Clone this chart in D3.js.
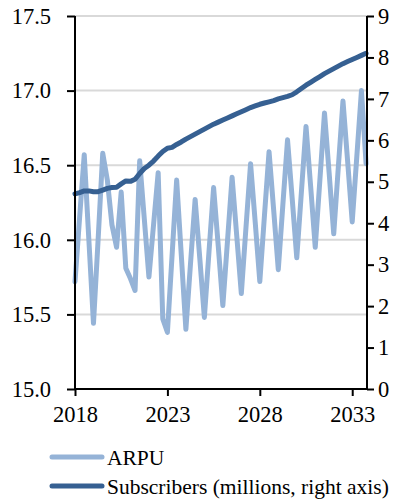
<!DOCTYPE html>
<html>
<body style="margin:0">
<div class="container"></div>
<script src="https://d3js.org/d3.v7.min.js"></script>
<script>

// quarterly data, first quarter is 2018 Q1
var startYear = 2018;

var arpu = [
  15.72, 16.15, 16.57, 16.00,
  15.44, 16.00, 16.58, 16.40,
  16.10, 15.95, 16.32, 15.81,
  15.74, 15.66, 16.53, 16.14,
  15.75, 16.10, 16.45, 15.47,
  15.38, 15.89, 16.40, 15.90,
  15.40, 15.84, 16.27, 15.88,
  15.48, 15.92, 16.35, 15.96,
  15.56, 15.99, 16.42, 16.03,
  15.64, 16.08, 16.51, 16.12,
  15.72, 16.16, 16.59, 16.20,
  15.80, 16.24, 16.67, 16.28,
  15.88, 16.32, 16.76, 16.36,
  15.95, 16.40, 16.85, 16.45,
  16.04, 16.49, 16.93, 16.53,
  16.12, 16.56, 17.00, 16.51
];

var subscribers = [
  4.71, 4.74, 4.78, 4.78,
  4.76, 4.76, 4.80, 4.84,
  4.86, 4.87, 4.95, 5.02,
  5.01, 5.06, 5.20, 5.32,
  5.40, 5.50, 5.62, 5.73,
  5.81, 5.83, 5.90, 5.96,
  6.03, 6.09, 6.15, 6.21,
  6.27, 6.33, 6.39, 6.44,
  6.49, 6.54, 6.59, 6.64,
  6.69, 6.74, 6.79, 6.83,
  6.87, 6.90, 6.93, 6.96,
  7.00, 7.03, 7.06, 7.10,
  7.17, 7.25, 7.33, 7.40,
  7.47, 7.54, 7.61, 7.67,
  7.73, 7.79, 7.85, 7.90,
  7.95, 8.00, 8.05, 8.10
];

var xTicks = [2018, 2023, 2028, 2033];
var leftTicks = [15.0, 15.5, 16.0, 16.5, 17.0, 17.5];
var rightTicks = [0, 1, 2, 3, 4, 5, 6, 7, 8, 9];
var legendLabels = ["ARPU", "Subscribers (millions, right axis)"];

var width = 401,
    height = 502,
    margin = {top: 16, right: 34, bottom: 113, left: 75},
    w = width - margin.left - margin.right,
    h = height - margin.top - margin.bottom;

var light = "#95b3d7",
    dark = "#366092",
    serif = "'Liberation Serif', 'Times New Roman', serif";

var svg = d3.select(".container")
    .append("svg")
    .attr("width", width)
    .attr("height", height)
    .style("display", "block");

var g = svg.append("g")
    .attr("transform", "translate(" + margin.left + "," + margin.top + ")");

var x = d3.scaleLinear().domain([2018, 2033.8]).range([0, w]);
var yL = d3.scaleLinear().domain([15, 17.5]).range([h, 0]);
var yR = d3.scaleLinear().domain([0, 9]).range([h, 0]);

function t(i) { return startYear + i / 4; }

// gridlines
g.selectAll(".grid")
    .data(leftTicks.slice(1))
  .enter().append("line")
    .attr("class", "grid")
    .attr("x1", 0)
    .attr("x2", w)
    .attr("y1", function(d) { return yL(d); })
    .attr("y2", function(d) { return yL(d); })
    .style("stroke", "#d9d9d9")
    .style("stroke-width", 2);

var arpuLine = d3.line()
    .x(function(d, i) { return x(t(i)); })
    .y(function(d) { return yL(d); });

var subLine = d3.line()
    .x(function(d, i) { return x(t(i)); })
    .y(function(d) { return yR(d); });

g.append("path")
    .datum(arpu)
    .attr("d", arpuLine)
    .style("fill", "none")
    .style("stroke", light)
    .style("stroke-width", 5)
    .style("stroke-linejoin", "round")
    .style("stroke-linecap", "round");

g.append("path")
    .datum(subscribers)
    .attr("d", subLine)
    .style("fill", "none")
    .style("stroke", dark)
    .style("stroke-width", 5)
    .style("stroke-linejoin", "round")
    .style("stroke-linecap", "round");

// axes
var leftAxis = g.append("g")
    .call(d3.axisLeft(yL).tickValues(leftTicks).tickFormat(d3.format(".1f")).tickSize(8).tickPadding(16));

var rightAxis = g.append("g")
    .attr("transform", "translate(" + w + ",0)")
    .call(d3.axisRight(yR).tickValues(rightTicks).tickFormat(d3.format("d")).tickSize(7).tickPadding(4));

var bottomAxis = g.append("g")
    .attr("transform", "translate(0," + h + ")")
    .call(d3.axisBottom(x).tickValues(xTicks).tickFormat(d3.format("d")).tickSize(7).tickPadding(10));

[leftAxis, rightAxis, bottomAxis].forEach(function(a) {
  a.attr("font-family", null).attr("font-size", null);
  a.selectAll(".domain").attr("d", null);
  a.selectAll("line").style("stroke", "#000").style("stroke-width", 2);
  a.selectAll("text")
      .style("font-family", serif)
      .style("font-size", "22.5px")
      .style("fill", "#000");
});

// axis lines
g.append("line").attr("x1", 0).attr("x2", 0).attr("y1", 0).attr("y2", h)
    .style("stroke", "#000").style("stroke-width", 2);
g.append("line").attr("x1", w).attr("x2", w).attr("y1", 0).attr("y2", h)
    .style("stroke", "#000").style("stroke-width", 2);
g.append("line").attr("x1", 0).attr("x2", w).attr("y1", h).attr("y2", h)
    .style("stroke", "#000").style("stroke-width", 2);

// legend
var legend = svg.append("g")
    .attr("transform", "translate(50,457)");

var items = legend.selectAll(".item")
    .data(legendLabels)
  .enter().append("g")
    .attr("class", "item")
    .attr("transform", function(d, i) { return "translate(0," + i * 29 + ")"; });

items.append("line")
    .attr("x1", 2)
    .attr("x2", 52)
    .attr("y1", 0)
    .attr("y2", 0)
    .style("stroke", function(d, i) { return i === 0 ? light : dark; })
    .style("stroke-width", 5)
    .style("stroke-linecap", "round");

items.append("text")
    .attr("x", 57)
    .attr("y", 8)
    .text(function(d) { return d; })
    .style("font-family", serif)
    .style("font-size", "21.5px")
    .style("fill", "#000");

</script>
</body>
</html>
